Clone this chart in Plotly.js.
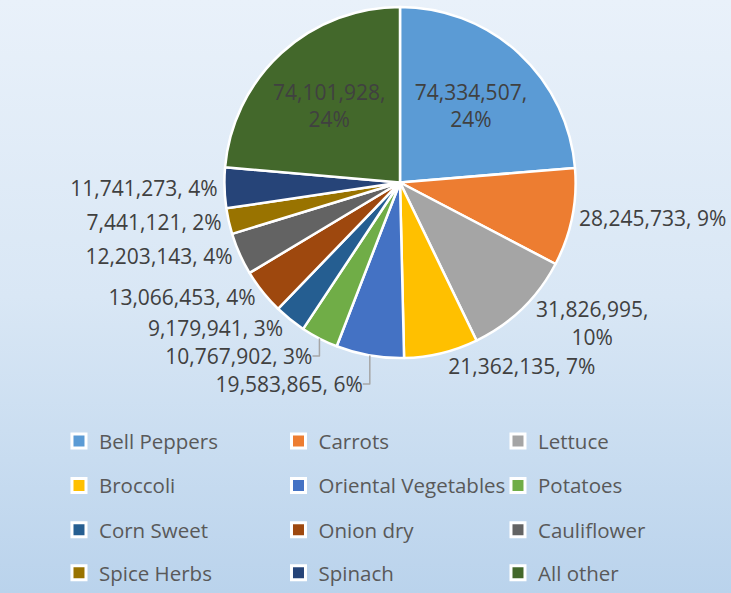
<!DOCTYPE html>
<html><head><meta charset="utf-8">
<script src="https://cdn.plot.ly/plotly-3.0.1.min.js"></script>
<style>
html,body{margin:0;padding:0;}
body{width:731px;height:593px;overflow:hidden;background:linear-gradient(to bottom,#E9F1FA 0%,#D9E7F5 50%,#BAD3EC 100%);}
#chart{width:731px;height:593px;}
#chart path.textline{stroke:#A6A6A6 !important;stroke-width:1.5px !important;}
</style></head><body><div id="chart"></div>
<script>
const categories = ['Bell Peppers','Carrots','Lettuce','Broccoli','Oriental Vegetables','Potatoes','Corn Sweet','Onion dry','Cauliflower','Spice Herbs','Spinach','All other'];
const values = [74334507, 28245733, 31826995, 21362135, 19583865, 10767902, 9179941, 13066453, 12203143, 7441121, 11741273, 74101928];
const colors = ['#5B9BD5','#ED7D31','#A5A5A5','#FFC000','#4472C4','#70AD47','#255E91','#9E480E','#636363','#997300','#264478','#43682B'];
const insideCategories = ['Bell Peppers','All other'];
const wrappedCategories = ['Bell Peppers','Lettuce','All other'];

const labelFont = {family:'Open Sans, sans-serif', size:21, color:'#404040'};
const legendFont = {family:'Open Sans, sans-serif', size:20.5, color:'#595959'};

const pie = {
  type:'pie',
  labels: categories,
  values: values,
  sort:false,
  direction:'clockwise',
  rotation:0,
  marker:{colors: colors, line:{color:'#FFFFFF', width:2.5}},
  texttemplate: categories.map(c => wrappedCategories.includes(c) ? '%{value:,},<br>%{percent:.0%}' : '%{value:,}, %{percent:.0%}'),
  textposition: categories.map(c => insideCategories.includes(c) ? 'inside' : 'outside'),
  insidetextorientation:'horizontal',
  textfont: labelFont,
  insidetextfont: labelFont,
  outsidetextfont: labelFont,
  domain:{x:[0.3037,0.7907], y:[0.3879,0.9882]},
  showlegend:false,
  hovertemplate:'%{label}: %{value:,} (%{percent})<extra></extra>'
};

const legendNames = ['legend','legend2','legend3','legend4'];
const legendRowsY = [0.2800, 0.2041, 0.1282, 0.0540];
const legendTraces = categories.map((c,i) => ({
  type:'scatter', mode:'markers', x:[null], y:[null], name:c,
  legend: legendNames[Math.floor(i/3)],
  marker:{symbol:'square', size:14, color:colors[i], line:{color:'#FFFFFF', width:3}},
  showlegend:true, hoverinfo:'skip'
}));

const layout = {
  width:731, height:593,
  margin:{l:0,r:0,t:0,b:0},
  paper_bgcolor:'rgba(0,0,0,0)',
  plot_bgcolor:'rgba(0,0,0,0)',
  xaxis:{visible:false}, yaxis:{visible:false},
  showlegend:true
};
legendNames.forEach((n,k) => {
  layout[n] = {orientation:'h', x:0.0807, xanchor:'left', y:legendRowsY[k], yanchor:'top',
    entrywidth:174.5, entrywidthmode:'pixels', font:legendFont, bgcolor:'rgba(0,0,0,0)', borderwidth:0, traceorder:'normal'};
});

Plotly.newPlot('chart', [pie].concat(legendTraces), layout, {displayModeBar:false});
</script></body></html>
